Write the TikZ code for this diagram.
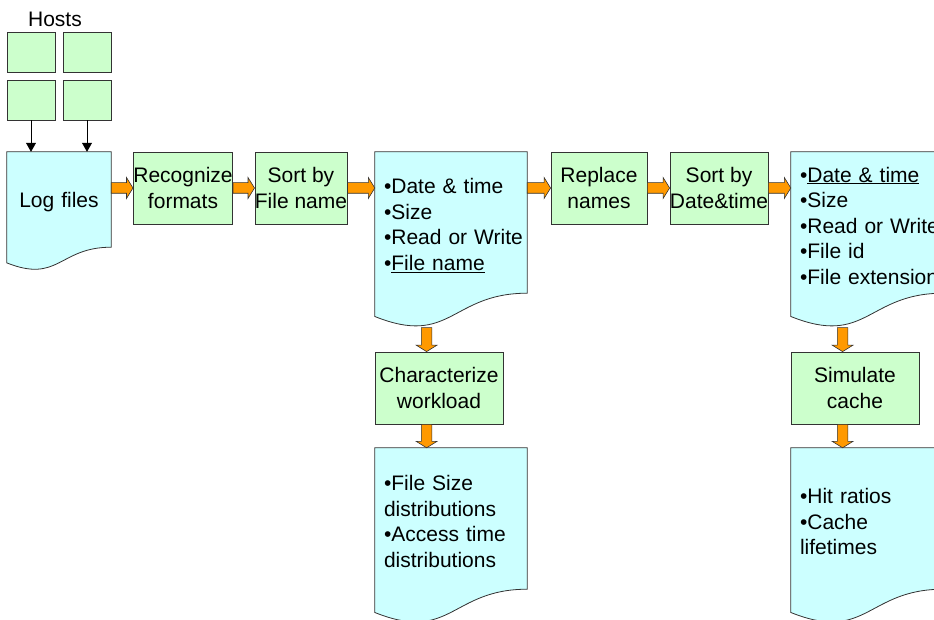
\documentclass[tikz,border=0pt]{standalone}
\usepackage{fontspec}
\setmainfont{Liberation Sans}
\usetikzlibrary{calc,arrows.meta,backgrounds}

\definecolor{docblue}{HTML}{CCFFFF}
\definecolor{boxgreen}{HTML}{CCFFCC}
\definecolor{arroworange}{HTML}{FF9900}

\tikzset{
  stepbox/.style={draw=black!80, fill=boxgreen, line width=0.8pt, minimum width=96pt, minimum height=72pt, inner sep=0pt, align=center},
  hostbox/.style={draw=black!80, fill=boxgreen, line width=0.8pt, minimum width=48pt, minimum height=40pt, inner sep=0pt},
  docnode/.style={minimum width=152pt, minimum height=141pt, text width=134pt, inner xsep=9pt, inner ysep=0pt, align=left,
    execute at end node={\par\vspace*{-6pt}}},
  docshape/.style={draw=black!80, fill=docblue, line width=0.8pt},
  hostarrow/.style={-{Triangle[length=9pt,width=10pt]}, line width=0.8pt},
  blockarrow/.style={fill=arroworange, draw=black!80, line width=0.6pt,
    to path={
      ($(\tikztostart)!5.3pt!-90:(\tikztotarget)$)
      -- ($(\tikztotarget)!6.5pt!(\tikztostart)!5.3pt!90:(\tikztostart)$)
      -- ($(\tikztotarget)!6.5pt!(\tikztostart)!10.5pt!90:(\tikztostart)$)
      -- (\tikztotarget)
      -- ($(\tikztotarget)!6.5pt!(\tikztostart)!10.5pt!-90:(\tikztostart)$)
      -- ($(\tikztotarget)!6.5pt!(\tikztostart)!5.3pt!-90:(\tikztostart)$)
      -- ($(\tikztostart)!5.3pt!90:(\tikztotarget)$) -- cycle}}
}

\begin{document}
\begin{tikzpicture}[x=1pt, y=-1pt, font=\fontsize{21}{25.5}\selectfont]
    \useasboundingbox (0,0) rectangle (934,620);
    \clip (0,0) rectangle (934,620);

    % Hosts
    \node (hosts) at (55,19) {Hosts};
    \foreach \n/\x/\y in {h1/31/52, h2/87/52, h3/31/100, h4/87/100}
        \node[hostbox] (\n) at (\x,\y) {};

    % Documents (text part, the wavy bottom is drawn below)
    \node[docnode, minimum width=104pt, minimum height=95pt, text width=86pt, align=center] (d1) at (59,199.5) {Log files};
    \node[docnode] (d2) at (451,222.5) {•Date \& time\\•Size\\•\mbox{Read or Write}\\•\underline{File name}};
    \node[docnode] (d3) at (867,222.5) {•\underline{Date \& time}\\•Size\\•\mbox{Read or Write}\\•File id\\•\mbox{File extension}};
    \node[docnode] (d4) at (451,518.5) {•File Size\\distributions\\•Access time\\distributions};
    \node[docnode] (d5) at (867,518.5) {•Hit ratios\\•Cache\\lifetimes};

    % Steps
    \node[stepbox] (r1) at (183,188) {Recognize\\formats};
    \node[stepbox, minimum width=92pt] (r2) at (301,188) {Sort by\\File name};
    \node[stepbox] (r3) at (599,188) {Replace\\names};
    \node[stepbox] (r4) at (719,188) {Sort by\\Date\&time};
    \node[stepbox, minimum width=128pt] (c1) at (439,388) {Characterize\\workload};
    \node[stepbox, minimum width=128pt] (c2) at (855,388) {Simulate\\cache};

    \begin{scope}[on background layer]
    \foreach \d in {d1,d2,d3,d4,d5}
        \draw[docshape] (\d.north west) -- (\d.north east) -- (\d.south east)
            .. controls (\d.south) and ($(\d.north)!1.3815!(\d.south)$)
            .. ($(\d.north west)!1.1646!(\d.south west)$) -- cycle;
    \end{scope}

    % Host arrows
    \draw[hostarrow] (h3.south) -- (h3.south |- d1.north);
    \draw[hostarrow] (h4.south) -- (h4.south |- d1.north);

    % Flow arrows
    \draw[blockarrow] (d1.east |- r1.west) to (r1.west);
    \draw[blockarrow] (r1.east) to (r2.west);
    \draw[blockarrow] (r2.east) to (r2.east -| d2.west);
    \draw[blockarrow] (d2.east |- r3.west) to (r3.west);
    \draw[blockarrow] (r3.east) to (r4.west);
    \draw[blockarrow] (r4.east) to (r4.east -| d3.west);
    \foreach \c/\d in {c1/d4, c2/d5} {
        \draw[blockarrow] ([xshift=52pt,yshift=24pt]\c.north west) to ([xshift=52pt]\c.north west);
        \draw[blockarrow] ([xshift=52pt]\c.south west) to ([xshift=52pt]\c.south west |- \d.north);
    }
\end{tikzpicture}
\end{document}
